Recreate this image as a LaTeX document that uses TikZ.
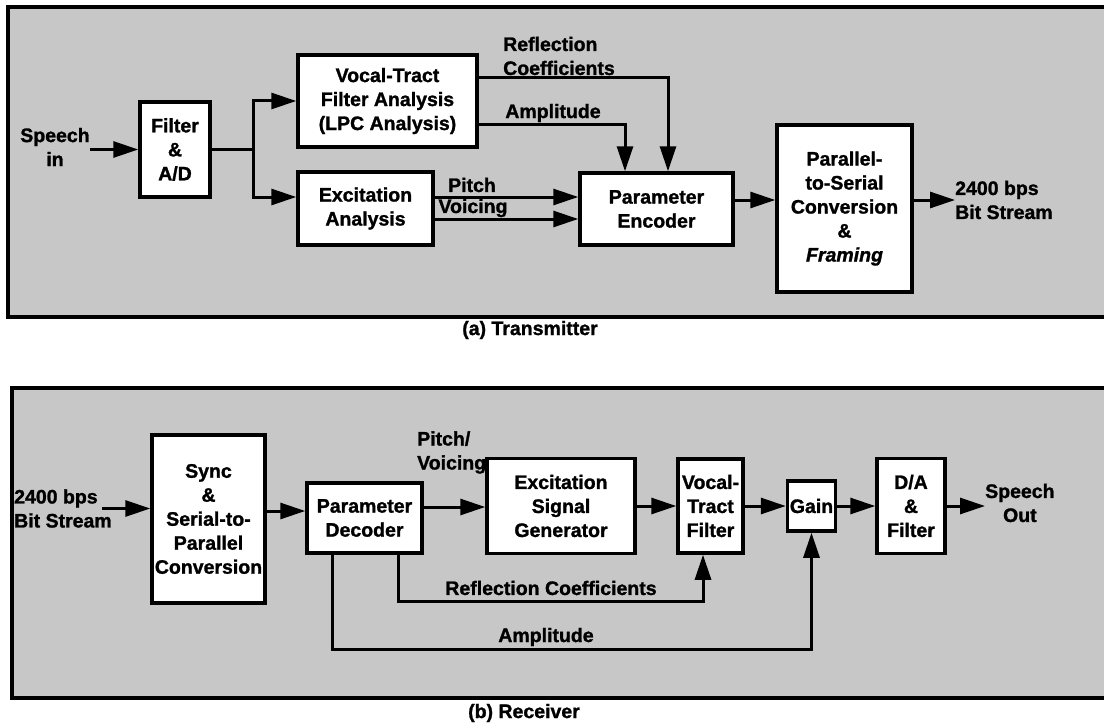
\documentclass[tikz,border=0pt]{standalone}
\usepackage{fontspec}
\setmainfont{Liberation Sans}[BoldFeatures={FakeBold=1.3}, BoldItalicFeatures={FakeBold=1.3}]
\usetikzlibrary{arrows.meta,calc}
\begin{document}
\begin{tikzpicture}[x=1pt,y=-1pt,
  txt/.style={font=\fontsize{19.5}{24}\selectfont\bfseries},
  box/.style={txt, draw, line width=3.5pt, fill=white, inner sep=0pt, align=center},
  lab/.style={txt, inner sep=0pt, align=left},
  arr/.style={line width=3pt, -{Triangle[length=25pt,width=16pt]}},
  ln/.style={line width=3pt},
  panel/.style={draw, line width=3.5pt, fill=black!22}]
\useasboundingbox (0,0) rectangle (1104,725);
% panels
\draw[panel] (8,7) rectangle (1116,317);
\draw[panel] (12,388) rectangle (1116,698);
% ---------------- transmitter ----------------
\node[lab, align=center] (spin) at (55,147) {Speech\\in};
\node[box, minimum width=70pt, minimum height=95pt] (fad) at (175,149.5) {Filter\\\&\\A/D};
\node[box, minimum width=179pt, minimum height=92pt] (vta) at (387.5,101) {Vocal-Tract\\Filter Analysis\\(LPC Analysis)};
\node[box, minimum width=135pt, minimum height=73pt] (exa) at (365.5,208.5) {Excitation\\Analysis};
\node[box, minimum width=153pt, minimum height=72pt] (enc) at (656.5,209) {Parameter\\Encoder};
\node[box, minimum width=135pt, minimum height=167pt] (p2s) at (844.5,208.5) {Parallel-\\to-Serial\\Conversion\\\&\\\textit{Framing}};
\node[lab, anchor=west] (bs1) at (955,200) {2400 bps\\Bit Stream};
\node[lab] (lpit) at (472,185) {Pitch};
\node[lab] (lvoi) at (473,208) {Voicing};
\node[lab, anchor=west] (lrc) at (503,56) {Reflection\\Coefficients};
\node[lab] (lam) at (553,113) {Amplitude};
\node[txt] (capa) at (530,330) {(a) Transmitter};
% connectors
\draw[arr] (spin.east |- fad.west) -- (fad.west);
\coordinate (sp) at (253,149.5);
\draw[ln] (fad.east) -- (sp);
\draw[arr] (sp) |- (vta.west);
\path ([yshift=11.5pt]exa.west) coordinate (exin);
\draw[arr] (sp) |- (exin);
\path ([yshift=11.5pt]exa.east) coordinate (pi0);
\draw[arr] (pi0) -- (pi0 -| enc.west);
\path ([yshift=-10.5pt]exa.east) coordinate (vo0);
\draw[arr] (vo0) -- (vo0 -| enc.west);
\path ([yshift=23pt]vta.east) coordinate (rc0);
\draw[arr] (rc0) -| ([xshift=11.5pt]enc.north);
\path ([yshift=-23pt]vta.east) coordinate (am0);
\draw[arr] (am0) -| ([xshift=-31.5pt]enc.north);
\path ([yshift=9pt]enc.east) coordinate (e1);
\draw[arr] (e1) -- (e1 -| p2s.west);
\path (e1 -| p2s.east) coordinate (p1);
\draw[arr] (p1) -- (bs1.west);
% ---------------- receiver ----------------
\node[lab, anchor=west] (bs2) at (14,508.5) {2400 bps\\Bit Stream};
\node[box, minimum width=113pt, minimum height=168pt] (sync) at (208.5,519) {Sync\\\&\\Serial-to-\\Parallel\\Conversion};
\node[box, minimum width=115pt, minimum height=70pt] (dec) at (364.5,518) {Parameter\\Decoder};
\node[box, minimum width=148pt, minimum height=95pt] (esg) at (561,506) {Excitation\\Signal\\Generator};
\node[box, minimum width=65pt, minimum height=94pt] (vtf) at (710.5,506) {Vocal-\\Tract\\Filter};
\node[box, minimum width=48pt, minimum height=50pt] (gain) at (811.5,506) {Gain};
\node[box, minimum width=68pt, minimum height=95pt] (da) at (911,506) {D/A\\\&\\Filter};
\node[lab, align=center, anchor=west] (sout) at (985,503) {Speech\\Out};
\node[lab, anchor=west] (lpv) at (417,452.5) {Pitch/\\Voicing};
\node[lab] (lrc2) at (551,588) {Reflection Coefficients};
\node[lab] (lam2) at (546,637) {Amplitude};
\node[txt] (capb) at (524,713) {(b) Receiver};
% connectors
\path ([xshift=-10pt]bs2.east) coordinate (b0);
\draw[arr] (b0) -- (b0 -| sync.west);
\path ([yshift=8pt]sync.east) coordinate (s0);
\draw[arr] (s0) -- (s0 -| dec.west);
\path ([yshift=11pt]dec.east) coordinate (d0);
\draw[arr] (d0) -- (d0 -| esg.west);
\draw[arr] (esg.east) -- (vtf.west);
\draw[arr] (vtf.east) -- (gain.west);
\draw[arr] (gain.east) -- (da.west);
\draw[arr] (da.east) -- (da.east -| sout.west);
\path ([xshift=33.5pt]dec.south) coordinate (r0);
\draw[arr] (r0) -- ++(0,47) -| ([xshift=-7.5pt]vtf.south);
\path ([xshift=-32.5pt]dec.south) coordinate (a0);
\draw[arr] (a0) -- ++(0,95) -| (gain.south);
\end{tikzpicture}
\end{document}
